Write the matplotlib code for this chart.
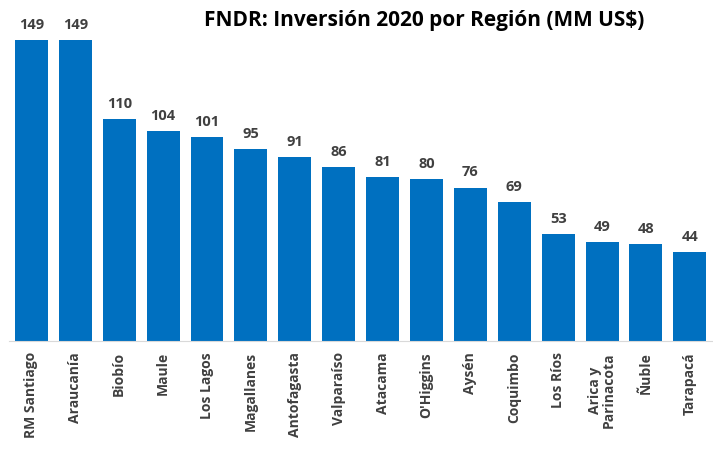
import matplotlib
matplotlib.use('Agg')
import matplotlib.pyplot as plt

# datos
regiones = ['RM Santiago', 'Araucanía', 'Biobío', 'Maule', 'Los Lagos',
            'Magallanes', 'Antofagasta', 'Valparaíso', 'Atacama', "O'Higgins",
            'Aysén', 'Coquimbo', 'Los Ríos', 'Arica y\nParinacota', 'Ñuble',
            'Tarapacá']
inversion = [149, 149, 110, 104, 101, 95, 91, 86, 81, 80, 76, 69, 53, 49, 48, 44]

plt.rcParams['font.family'] = ['Open Sans', 'DejaVu Sans']

fig = plt.figure(figsize=(7.13, 4.5), dpi=100)
ax = fig.add_axes([0.0133, 0.242, 0.985, 0.669])

x = range(len(regiones))
bars = ax.bar(x, inversion, width=0.75, color='#0070C0')
ax.set_xlim(-0.5, len(regiones) - 0.5)
ax.set_ylim(0, 149)

# etiquetas de valor
for b, v in zip(bars, inversion):
    ax.text(b.get_x() + b.get_width() / 2, v + 4, str(v), ha='center',
            va='bottom', fontsize=10.5, fontweight='bold', color='#404040',
            clip_on=False)

ax.set_xticks(list(x))
ax.set_xticklabels(regiones, rotation=90, fontsize=10, fontweight='bold',
                   color='#404040', linespacing=1.0)
ax.tick_params(axis='x', length=0, pad=8)
ax.set_yticks([])
for s in ['top', 'right', 'left']:
    ax.spines[s].set_visible(False)
ax.spines['bottom'].set_color('#D9D9D9')

fig.text(0.595, 0.955, 'FNDR: Inversión 2020 por Región (MM US$)', ha='center',
         va='center', fontsize=15, fontweight='bold', color='black')

fig.savefig('out.png', dpi=100)
